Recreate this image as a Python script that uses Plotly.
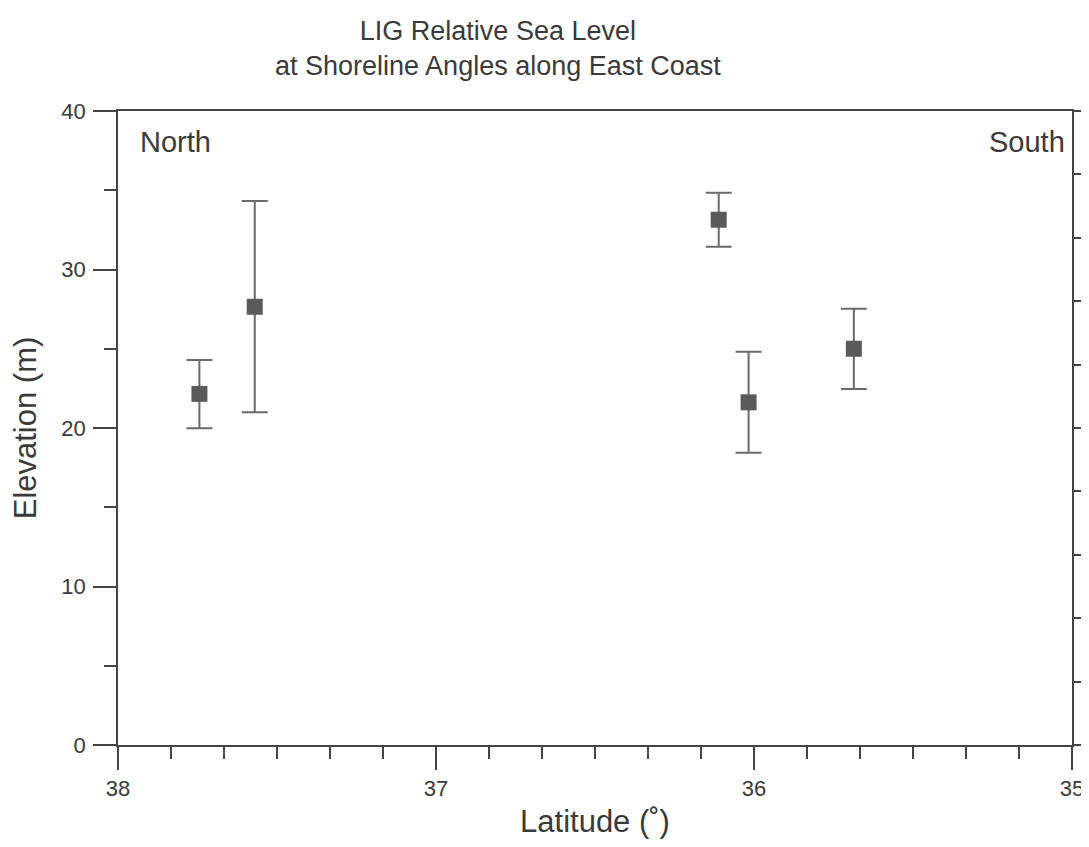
import plotly.graph_objects as go

# Data
latitude = [37.744, 37.570, 36.111, 36.017, 35.686]
elevation = [22.15, 27.65, 33.14, 21.62, 25.00]
err_plus = [2.14, 6.67, 1.71, 3.19, 2.53]
err_minus = [2.17, 6.66, 1.70, 3.18, 2.54]

x_ticks = [38, 37, 36, 35]
y_ticks = [0, 10, 20, 30, 40]

FONT = "Liberation Sans, Arial, sans-serif"
TXT = "#3a3a3a"
AX = "#444444"

fig = go.Figure()
fig.add_trace(go.Scatter(
    x=latitude, y=elevation, mode="markers",
    marker=dict(symbol="square", size=16, color="#5a5a5a",
                line=dict(width=0)),
    error_y=dict(type="data", symmetric=False, array=err_plus,
                 arrayminus=err_minus, color="#6a6a6a", thickness=2, width=13),
    showlegend=False, hoverinfo="skip"))
# dummy trace so the right-hand axis is drawn
fig.add_trace(go.Scatter(x=[None], y=[None], yaxis="y2", showlegend=False,
                         hoverinfo="skip"))

fig.update_layout(
    width=1082, height=831,
    margin=dict(l=110, r=18, t=103, b=94, autoexpand=False),
    paper_bgcolor="white", plot_bgcolor="white",
    font=dict(family=FONT, color=TXT),
    xaxis=dict(
        range=[38, 35], tickvals=x_ticks, ticks="outside", ticklen=23,
        tickwidth=1.5, tickcolor=AX, showline=True, linecolor=AX, linewidth=1.5,
        mirror=True, showgrid=False, zeroline=False, automargin=False,
        ticklabeloverflow="allow",
        tickfont=dict(size=22, color=TXT),
        minor=dict(dtick=1/6, tick0=35, ticks="outside", ticklen=12,
                   tickwidth=1.5, tickcolor=AX, showgrid=False),
        title=dict(text="Latitude (˚)", font=dict(size=31, color=TXT), standoff=12),
    ),
    yaxis=dict(
        range=[0, 40], tickvals=y_ticks, ticks="outside", ticklen=23,
        tickwidth=1.5, tickcolor=AX, showline=True, linecolor=AX, linewidth=1.5,
        showgrid=False, zeroline=False, ticklabelstandoff=3, automargin=False,
        tickfont=dict(size=22, color=TXT),
        minor=dict(dtick=5, tick0=0, ticks="outside", ticklen=12,
                   tickwidth=1.5, tickcolor=AX, showgrid=False),
        title=dict(text="Elevation (m)", font=dict(size=31, color=TXT), standoff=20),
    ),
    yaxis2=dict(
        range=[0, 40], overlaying="y", side="right", dtick=8, tick0=0,
        ticks="outside", ticklen=20, tickwidth=1.5, tickcolor=AX,
        showline=True, linecolor=AX, linewidth=1.5, showgrid=False,
        zeroline=False, showticklabels=False, automargin=False,
        minor=dict(dtick=4, tick0=0, ticks="outside", ticklen=11,
                   tickwidth=1.5, tickcolor=AX, showgrid=False),
    ),
    annotations=[
        dict(text="LIG Relative Sea Level<br>at Shoreline Angles along East Coast",
             xref="paper", yref="paper", x=0.398, y=1, xanchor="center",
             yanchor="bottom", yshift=28, showarrow=False,
             font=dict(size=27, color=TXT, family=FONT)),
        dict(text="North", xref="paper", yref="paper", x=0, y=1,
             xanchor="left", yanchor="top", xshift=20, yshift=-13,
             showarrow=False, font=dict(size=29, color=TXT, family=FONT)),
        dict(text="South", xref="paper", yref="paper", x=1, y=1,
             xanchor="right", yanchor="top", xshift=-5, yshift=-13,
             showarrow=False, font=dict(size=29, color=TXT, family=FONT)),
    ],
)

fig.write_html("out.html")
